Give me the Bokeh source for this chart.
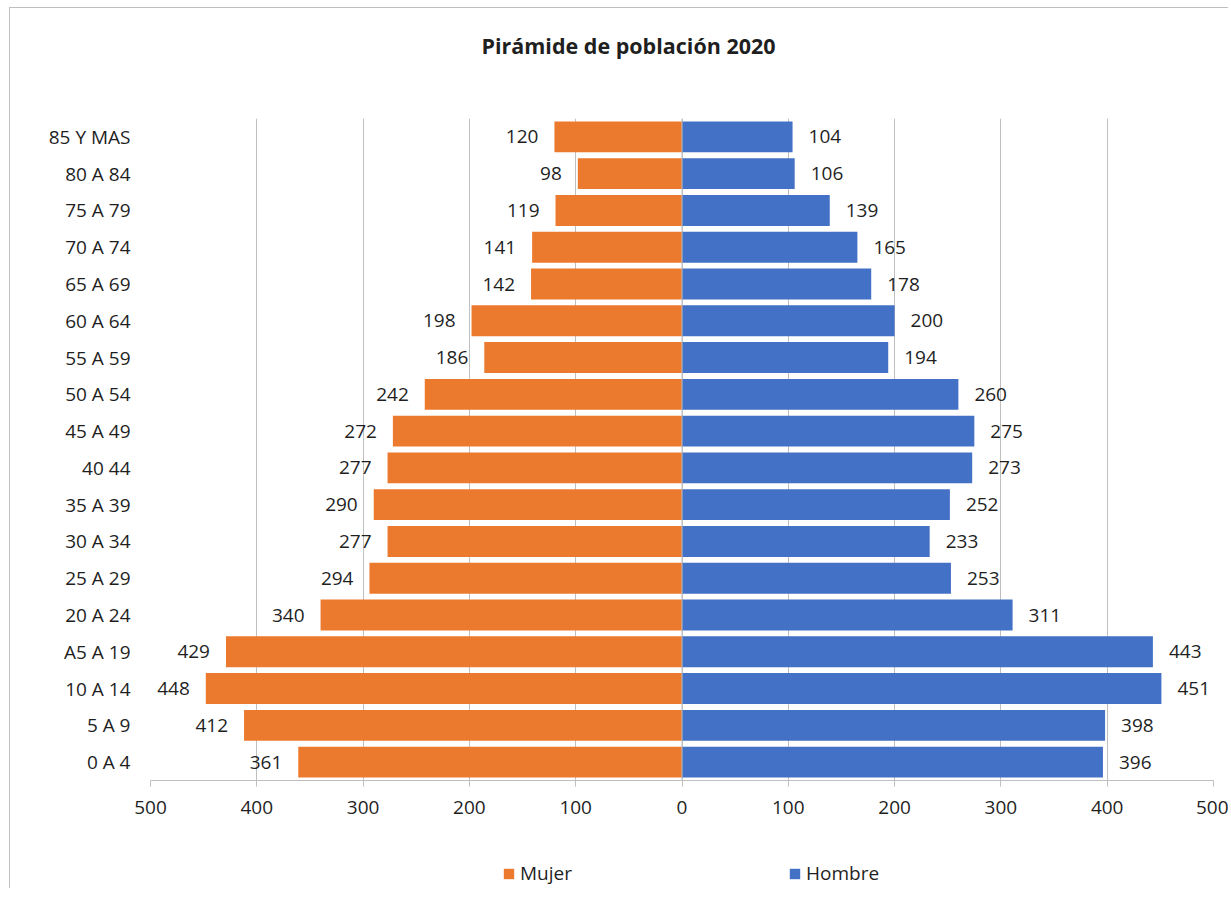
from bokeh.plotting import figure
from bokeh.layouts import column
from bokeh.models import (FactorRange, Range1d, FixedTicker, Legend, LegendItem,
                          Span, ColumnDataSource, Label)
from bokeh.core.properties import value
from bokeh.embed import file_html
from bokeh.resources import INLINE

# ---- data (bottom to top) ----
categories = ["0 A 4", "5 A 9", "10 A 14", "A5 A 19", "20 A 24", "25 A 29", "30 A 34",
              "35 A 39", "40 44", "45 A 49", "50 A 54", "55 A 59", "60 A 64", "65 A 69",
              "70 A 74", "75 A 79", "80 A 84", "85 Y MAS"]
mujer = [361, 412, 448, 429, 340, 294, 277, 290, 277, 272, 242, 186, 198, 142, 141, 119, 98, 120]
hombre = [396, 398, 451, 443, 311, 253, 233, 252, 273, 275, 260, 194, 200, 178, 165, 139, 106, 104]
tick_values = [-500, -400, -300, -200, -100, 0, 100, 200, 300, 400, 500]
tick_labels = ["500", "400", "300", "200", "100", "0", "100", "200", "300", "400", "500"]
title_text = "Pirámide de población 2020"
series_names = ["Mujer", "Hombre"]

FONT = "Open Sans"
FS = "19px"
TXT = "#1f1f1f"
GRID = "#BFBFBF"
ORANGE = "#EC7A2E"
BLUE = "#4371C5"

FRAME_W = 1063
BORDER_L = 140
BORDER_R = 15


def strip_figure(frame_height, x_range, y_range):
    f = figure(x_range=x_range, y_range=y_range,
               frame_width=FRAME_W, frame_height=frame_height,
               min_border_left=BORDER_L, min_border_right=BORDER_R,
               min_border_top=0, min_border_bottom=0,
               x_axis_type=None, y_axis_type=None,
               output_backend="svg", toolbar_location=None)
    f.title = None
    f.outline_line_color = None
    f.background_fill_color = "white"
    f.border_fill_color = "white"
    return f


src = ColumnDataSource(dict(
    cat=categories,
    m_neg=[-v for v in mujer],
    h=hombre,
    m_lbl=[str(v) for v in mujer],
    h_lbl=[str(v) for v in hombre],
))

# ---------------- title strip ----------------
p_title = strip_figure(110, Range1d(0, 1), Range1d(0, 1))
p_title.add_layout(Label(x=478, y=73.5, x_units="screen", y_units="screen", text=title_text,
                         text_align="center", text_baseline="middle", text_font=FONT,
                         text_font_size="21.5px", text_font_style="bold", text_color=TXT))

# ---------------- main chart ----------------
p = figure(y_range=FactorRange(factors=categories), x_range=Range1d(-500, 500),
           frame_width=FRAME_W, frame_height=662,
           min_border_left=BORDER_L, min_border_right=BORDER_R,
           min_border_top=0, min_border_bottom=48,
           output_backend="svg", toolbar_location=None)
p.title = None
p.outline_line_color = None
p.background_fill_color = "white"
p.border_fill_color = "white"

ticker = FixedTicker(ticks=tick_values)
p.xaxis.ticker = ticker
p.xaxis.major_label_overrides = {v: l for v, l in zip(tick_values, tick_labels)}
p.xaxis.axis_line_color = GRID
p.xaxis.major_tick_line_color = GRID
p.xaxis.major_tick_in = 0
p.xaxis.major_tick_out = 6
p.xaxis.minor_tick_line_color = None
p.xaxis.major_label_text_font = FONT
p.xaxis.major_label_text_font_size = FS
p.xaxis.major_label_text_color = TXT
p.xaxis.major_label_standoff = 14

p.yaxis.axis_line_color = None
p.yaxis.major_tick_line_color = None
p.yaxis.minor_tick_line_color = None
p.yaxis.major_label_text_font = FONT
p.yaxis.major_label_text_font_size = FS
p.yaxis.major_label_text_color = TXT
p.yaxis.major_label_standoff = 14

p.xgrid.ticker = ticker
p.xgrid.grid_line_color = GRID
p.ygrid.grid_line_color = None

p.hbar(y="cat", left=0, right="m_neg", height=0.84, source=src,
       fill_color=ORANGE, line_color=None)
p.hbar(y="cat", left=0, right="h", height=0.84, source=src,
       fill_color=BLUE, line_color=None)

p.add_layout(Span(location=0, dimension="height", line_color=GRID, line_width=1))

p.text(x="m_neg", y="cat", text="m_lbl", source=src, x_offset=-16,
       text_align="right", text_baseline="middle", text_font=value(FONT),
       text_font_size=FS, text_color=TXT)
p.text(x="h", y="cat", text="h_lbl", source=src, x_offset=16,
       text_align="left", text_baseline="middle", text_font=value(FONT),
       text_font_size=FS, text_color=TXT)

# ---------------- legend strip ----------------
# same series with zero height on an out-of-view range; only the legend swatches show
p_leg = strip_figure(60, Range1d(600, 700), FactorRange(factors=categories))
g_m = p_leg.hbar(y="cat", left=0, right="m_neg", height=0, source=src,
                 fill_color=ORANGE, line_color=None)
g_h = p_leg.hbar(y="cat", left=0, right="h", height=0, source=src,
                 fill_color=BLUE, line_color=None)
legend = Legend(items=[LegendItem(label=series_names[0], renderers=[g_m]),
                       LegendItem(label=series_names[1], renderers=[g_h])],
                orientation="horizontal", location=(352, 2), spacing=216,
                glyph_width=13, glyph_height=13, label_standoff=5,
                label_text_font=FONT, label_text_font_size=FS,
                label_text_color=TXT, border_line_color=None,
                background_fill_alpha=0, margin=0, padding=4)
p_leg.add_layout(legend, "center")

layout = column(p_title, p, p_leg, spacing=0,
                styles={"border-left": "1.5px solid #bfbfbf", "border-top": "1.5px solid #bfbfbf",
                        "margin-left": "9px", "margin-top": "7px"})

open("out.html", "w").write(file_html(layout, INLINE))
